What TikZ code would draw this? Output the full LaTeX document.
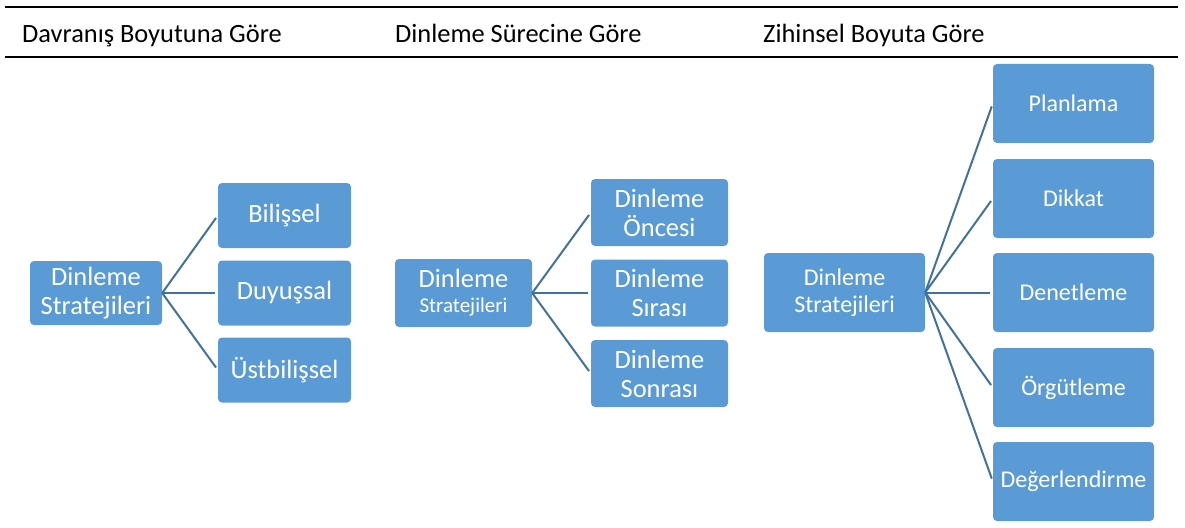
\documentclass[tikz,border=0pt]{standalone}
\usepackage{fontspec}
\setmainfont{Carlito}
\definecolor{boxblue}{HTML}{5B9BD5}
\definecolor{linkblue}{HTML}{41719C}
\begin{document}
\begin{tikzpicture}[x=1pt,y=-1pt,
  box/.style={rectangle,rounded corners=4pt,fill=boxblue,text=white,align=center,inner sep=0pt},
  big/.style={font=\fontsize{26.4}{29}\selectfont},
  mid/.style={font=\fontsize{24}{27}\selectfont},
  link/.style={draw=linkblue,line width=2pt,shorten >=3pt},
  rule/.style={draw=black,line width=1.6pt},
  head/.style={anchor=base west,inner sep=0pt,font=\fontsize{26.4}{29}\selectfont}]
\useasboundingbox (0,0) rectangle (1185,527);
% header rules
\coordinate (r1a) at (5,7);
\coordinate (r1b) at (1178,7);
\coordinate (r2a) at (5,57);
\coordinate (r2b) at (1178,57);
\draw[rule] (r1a) -- (r1b);
\draw[rule] (r2a) -- (r2b);
\node[head] (h1) at (22,42) {Davranış Boyutuna Göre};
\node[head] (h2) at (395,42) {Dinleme Sürecine Göre};
\node[head] (h3) at (763,42) {Zihinsel Boyuta Göre};
% left group
\node[box,big,minimum width=132pt,minimum height=64pt] (a0) at (96,293) {Dinleme\\Stratejileri};
\node[box,big,minimum width=133pt,minimum height=65pt] (a1) at (284.5,215.5) {Bilişsel};
\node[box,big,minimum width=133pt,minimum height=65pt] (a2) at (284.5,293) {Duyuşsal};
\node[box,big,minimum width=133pt,minimum height=65pt] (a3) at (284.5,370) {Üstbilişsel};
\foreach \c in {a1,a2,a3} \draw[link] (a0.east) -- (\c.west);
% middle group
\node[box,font=\fontsize{26.4}{25}\selectfont,minimum width=137pt,minimum height=68pt] (b0) at (463.5,293) {Dinleme\\\fontsize{21}{25}\selectfont Stratejileri};
\node[box,big,minimum width=137pt,minimum height=67pt] (b1) at (659.5,212.5) {Dinleme\\Öncesi};
\node[box,big,minimum width=137pt,minimum height=67pt] (b2) at (659.5,293) {Dinleme\\Sırası};
\node[box,big,minimum width=137pt,minimum height=67pt] (b3) at (659.5,373.5) {Dinleme\\Sonrası};
\foreach \c in {b1,b2,b3} \draw[link] (b0.east) -- (\c.west);
% right group
\node[box,mid,minimum width=161pt,minimum height=79pt] (c0) at (844.5,292.5) {Dinleme\\Stratejileri};
\node[box,mid,minimum width=161pt,minimum height=79pt] (c1) at (1073.5,103.5) {Planlama};
\node[box,mid,minimum width=161pt,minimum height=79pt] (c2) at (1073.5,198.5) {Dikkat};
\node[box,mid,minimum width=161pt,minimum height=79pt] (c3) at (1073.5,292.5) {Denetleme};
\node[box,mid,minimum width=161pt,minimum height=79pt] (c4) at (1073.5,387.5) {Örgütleme};
\node[box,mid,minimum width=161pt,minimum height=79pt] (c5) at (1073.5,481.5) {Değerlendirme};
\foreach \c in {c1,c2,c3,c4,c5} \draw[link] (c0.east) -- (\c.west);
\end{tikzpicture}
\end{document}
